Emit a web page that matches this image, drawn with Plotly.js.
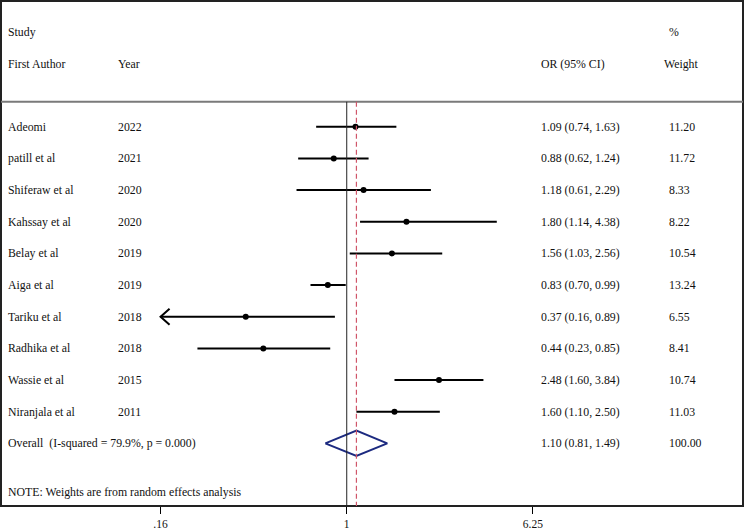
<!DOCTYPE html>
<html>
<head>
<meta charset="utf-8">
<script src="https://cdn.plot.ly/plotly-3.0.1.min.js"></script>
<style>
  html, body { margin: 0; padding: 0; background: #fff; }
  #forest { width: 744px; height: 530px; }
</style>
</head>
<body>
<div id="forest"></div>
<script>
// --- data ---
const studies = ['Adeomi', 'patill et al', 'Shiferaw et al', 'Kahssay et al', 'Belay et al',
                 'Aiga et al', 'Tariku et al', 'Radhika et al', 'Wassie et al', 'Niranjala et al'];
const years = ['2022', '2021', '2020', '2020', '2019', '2019', '2018', '2018', '2015', '2011'];
const orVals = [1.09, 0.88, 1.18, 1.80, 1.56, 0.83, 0.37, 0.44, 2.48, 1.60];
const ciLow = [0.74, 0.62, 0.61, 1.14, 1.03, 0.70, 0.16, 0.23, 1.60, 1.10];
const ciHigh = [1.63, 1.24, 2.29, 4.38, 2.56, 0.99, 0.89, 0.85, 3.84, 2.50];
const weights = ['11.20', '11.72', '8.33', '8.22', '10.54', '13.24', '6.55', '8.41', '10.74', '11.03'];
const overallOR = [1.10];
const overallLow = [0.81];
const overallHigh = [1.49];
const overallWeight = ['100.00'];
const overallLabel = 'Overall\u00a0 (I-squared = 79.9%, p = 0.000)';
const noteText = 'NOTE: Weights are from random effects analysis';
const xTickVals = [0.16, 1, 6.25];
const xTickText = ['.16', '1', '6.25'];

document.addEventListener("DOMContentLoaded", function () {
    const font = { family: 'Liberation Serif, Times New Roman, serif', size: 11.8, color: '#111' };
    const n = studies.length;
    const sepY = -0.79;      // grey line under the header
    const yBottom = 11.98;

    // CI lines (null breaks between studies)
    let lx = [], ly = [];
    for (let i = 0; i < n; i++) {
        lx.push(ciLow[i], ciHigh[i], null);
        ly.push(i, i, null);
    }

    // pooled diamond
    const dy = 0.4;
    const diamond = {
        x: [overallLow[0], overallOR[0], overallHigh[0], overallOR[0], overallLow[0]],
        y: [n, n - dy, n, n + dy, n],
        type: 'scatter', mode: 'lines',
        line: { color: '#1c2a80', width: 2 },
        hoverinfo: 'skip'
    };

    const traces = [
        { x: lx, y: ly, type: 'scatter', mode: 'lines', line: { color: '#000', width: 2 }, hoverinfo: 'skip' },
        { x: orVals, y: studies.map((s, i) => i), type: 'scatter', mode: 'markers',
          marker: { color: '#000', size: 6 }, hoverinfo: 'skip' },
        diamond
    ];

    const shapes = [
        // frame
        { type: 'rect', xref: 'paper', yref: 'paper', x0: 0, x1: 1, y0: 0, y1: 1,
          line: { color: '#222', width: 2 } },
        // header separator
        { type: 'line', xref: 'paper', yref: 'y', x0: 0, x1: 1, y0: sepY, y1: sepY,
          line: { color: '#7a7a7a', width: 2 } },
        // line of no effect
        { type: 'line', xref: 'x', yref: 'y', x0: 1, x1: 1, y0: sepY, y1: yBottom,
          line: { color: '#222', width: 1 } },
        // pooled estimate
        { type: 'line', xref: 'x', yref: 'y', x0: overallOR[0], x1: overallOR[0], y0: sepY, y1: yBottom,
          line: { color: '#d0566a', width: 1.2, dash: '5px,3px' } }
    ];

    // arrow where CI runs past the lowest tick
    for (let i = 0; i < n; i++) {
        if (ciLow[i] <= xTickVals[0]) {
            shapes.push({ type: 'path', xref: 'x', yref: 'y', xsizemode: 'pixel', ysizemode: 'pixel',
                xanchor: ciLow[i], yanchor: i, path: 'M 9,8 L 0,0 L 9,-8',
                line: { color: '#000', width: 2 } });
        }
    }

    // text columns (pixel -> paper)
    const px = p => (p - 1) / 742;
    const colName = px(6), colYear = px(116), colOR = px(539), colW = px(667);
    const ann = [];
    function txt(x, y, t) {
        ann.push({ xref: 'paper', yref: 'y', x: x, y: y, text: t, showarrow: false,
                   xanchor: 'left', yanchor: 'middle', font: font });
    }
    txt(colName, -3, 'Study');
    txt(colW, -3, '%');
    txt(colName, -2, 'First Author');
    txt(colYear, -2, 'Year');
    txt(colOR, -2, 'OR (95% CI)');
    txt(colW - px(6), -2, 'Weight');
    for (let i = 0; i < n; i++) {
        txt(colName, i, studies[i]);
        txt(colYear, i, years[i]);
        txt(colOR, i, orVals[i].toFixed(2) + ' (' + ciLow[i].toFixed(2) + ', ' + ciHigh[i].toFixed(2) + ')');
        txt(colW, i, weights[i]);
    }
    txt(colName, n, overallLabel);
    txt(colOR, n, overallOR[0].toFixed(2) + ' (' + overallLow[0].toFixed(2) + ', ' + overallHigh[0].toFixed(2) + ')');
    txt(colW, n, overallWeight[0]);
    txt(colName, 11.53, noteText);

    const layout = {
        width: 744, height: 530,
        margin: { l: 1, r: 1, t: 1, b: 24 },
        paper_bgcolor: '#fff', plot_bgcolor: '#fff',
        showlegend: false,
        font: font,
        xaxis: {
            type: 'log', range: [-1.478, 1.694],
            tickvals: xTickVals, ticktext: xTickText,
            ticks: 'outside', ticklen: 7, tickwidth: 1, tickcolor: '#000',
            ticklabelstandoff: 0,
            showgrid: false, zeroline: false, showline: false,
            tickfont: { family: font.family, size: 11.5, color: font.color }
        },
        yaxis: { range: [yBottom, -3.975], visible: false, showgrid: false, zeroline: false },
        shapes: shapes,
        annotations: ann
    };

    Plotly.newPlot('forest', traces, layout, { staticPlot: true });
});
</script>
</body>
</html>
